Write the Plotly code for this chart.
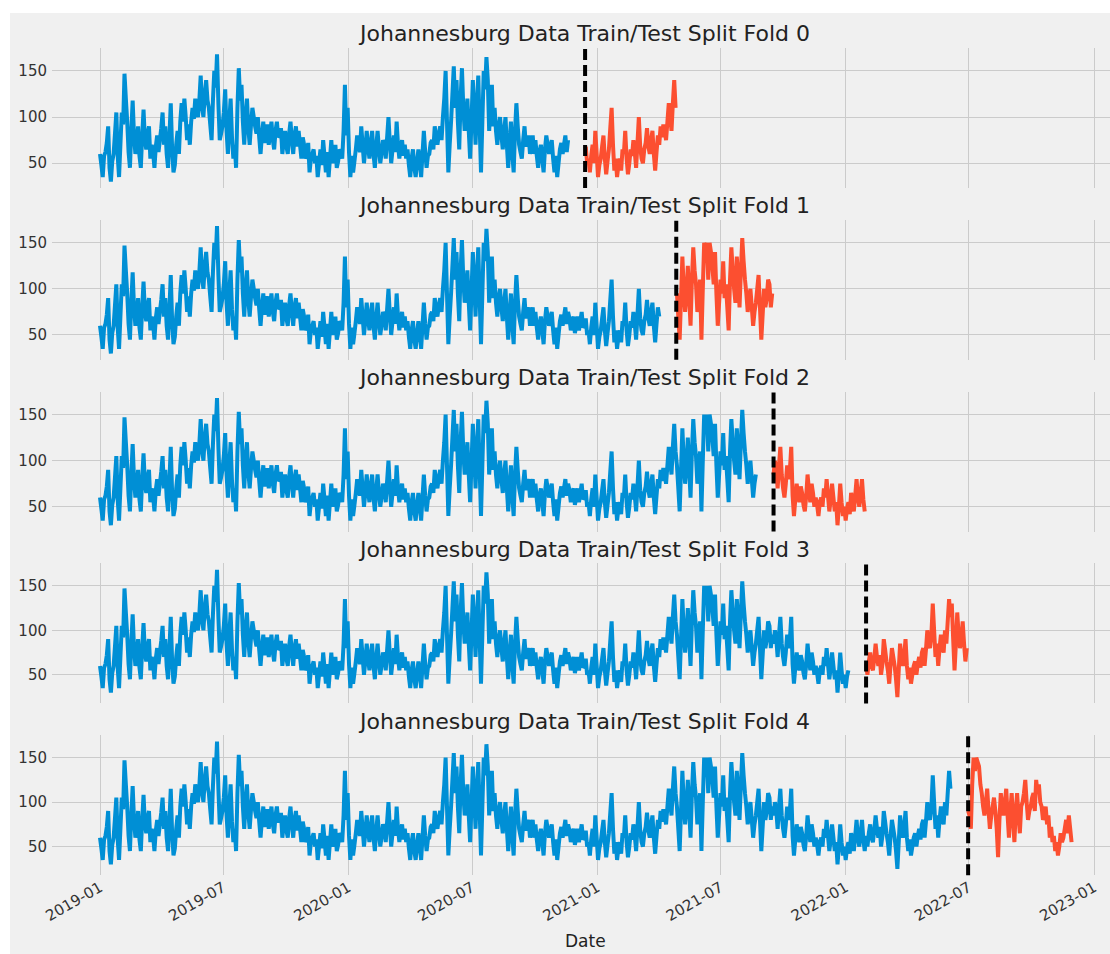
import pandas as pd
import plotly.graph_objects as go

# Daily-average readings sampled every 2 days from 2019-01-01
values = [
    60, 48, 35, 58, 62, 72, 90, 45, 30, 52, 60, 82, 105, 58, 35, 70, 105, 92, 147, 120,
    95, 62, 45, 85, 118, 80, 60, 72, 90, 58, 45, 80, 108, 75, 65, 82, 90, 55, 70, 62,
    45, 68, 80, 62, 75, 88, 105, 70, 90, 60, 45, 78, 115, 65, 40, 48, 70, 85, 60, 95,
    115, 95, 120, 100, 75, 92, 70, 95, 110, 98, 120, 108, 100, 118, 145, 112, 100, 125, 140, 118,
    110, 92, 75, 118, 150, 132, 168, 115, 75, 82, 90, 105, 130, 85, 60, 95, 120, 78, 55, 70,
    45, 110, 153, 118, 135, 95, 70, 100, 120, 88, 70, 92, 110, 100, 90, 82, 100, 78, 60, 80,
    95, 72, 85, 92, 70, 82, 95, 75, 65, 85, 95, 78, 80, 88, 60, 75, 85, 68, 60, 82,
    95, 75, 60, 80, 90, 68, 85, 70, 55, 78, 70, 55, 60, 72, 40, 55, 60, 65, 50, 58,
    35, 50, 65, 48, 75, 58, 40, 62, 35, 55, 75, 50, 60, 70, 45, 52, 65, 62, 55, 85,
    135, 80, 110, 62, 35, 58, 40, 52, 65, 80, 70, 62, 90, 70, 50, 65, 85, 68, 55, 72,
    85, 60, 45, 68, 85, 65, 50, 62, 75, 70, 55, 78, 100, 72, 50, 65, 80, 62, 95, 70,
    55, 68, 75, 58, 70, 55, 65, 48, 35, 55, 65, 45, 35, 52, 65, 50, 35, 60, 85, 62,
    45, 58, 60, 72, 75, 65, 90, 78, 70, 82, 90, 75, 100, 120, 150, 95, 40, 70, 95, 125,
    155, 110, 140, 95, 65, 120, 153, 110, 85, 100, 120, 85, 55, 95, 140, 105, 70, 115, 145, 90,
    40, 95, 150, 130, 165, 140, 85, 110, 135, 90, 110, 85, 70, 90, 100, 80, 65, 85, 100, 70,
    45, 72, 95, 60, 40, 85, 115, 90, 70, 62, 55, 75, 90, 68, 75, 80, 60, 70, 80, 60,
    75, 58, 45, 62, 70, 55, 40, 65, 80, 70, 60, 68, 75, 55, 40, 58, 35, 50, 65, 72,
    60, 70, 80, 62, 75, 68, 55, 64, 70, 52, 60, 70, 55, 65, 75, 58, 60, 68, 50, 55,
    40, 58, 70, 50, 85, 60, 35, 48, 55, 68, 80, 55, 38, 52, 65, 88, 110, 70, 42, 55,
    35, 48, 55, 42, 65, 60, 85, 55, 38, 50, 65, 58, 75, 62, 45, 72, 100, 68, 55, 50,
    65, 72, 88, 68, 60, 75, 85, 60, 42, 62, 80, 70, 90, 78, 92, 85, 75, 95, 115, 100,
    85, 115, 140, 110, 95, 70, 45, 90, 135, 100, 75, 95, 125, 90, 60, 110, 145, 120, 105, 75,
    90, 110, 45, 100, 150, 130, 150, 110, 150, 140, 125, 105, 140, 95, 60, 85, 110, 95, 130, 90,
    105, 80, 55, 110, 145, 120, 100, 85, 135, 110, 80, 120, 155, 130, 110, 95, 75, 90, 100, 80,
    60, 75, 85, 100, 115, 80, 45, 72, 100, 80, 90, 110, 105, 80, 95, 85, 100, 90, 70, 95,
    115, 85, 70, 60, 75, 95, 80, 90, 115, 62, 40, 58, 75, 62, 55, 72, 65, 52, 45, 62,
    85, 68, 55, 75, 65, 50, 60, 52, 40, 55, 60, 50, 70, 60, 80, 62, 45, 58, 75, 60,
    45, 55, 30, 50, 75, 55, 40, 50, 35, 48, 55, 42, 65, 58, 45, 62, 80, 60, 50, 65,
    80, 58, 45, 62, 50, 65, 75, 60, 55, 68, 85, 70, 60, 72, 50, 62, 90, 78, 65, 55,
    40, 62, 80, 70, 60, 45, 25, 55, 85, 70, 60, 72, 90, 60, 45, 58, 40, 50, 60, 65,
    50, 62, 70, 58, 75, 80, 60, 78, 100, 85, 80, 95, 130, 100, 70, 85, 60, 80, 95, 82,
    75, 100, 85, 110, 135, 115, 130, 90, 55, 85, 120, 95, 80, 90, 110, 85, 65, 80, 90, 85,
    70, 120, 150, 135, 150, 145, 140, 120, 110, 95, 85, 100, 115, 90, 70, 85, 95, 105, 90, 70,
    38, 80, 110, 95, 85, 100, 115, 85, 60, 90, 110, 80, 55, 90, 110, 85, 65, 95, 100, 110,
    125, 100, 80, 90, 95, 105, 110, 90, 125, 110, 120, 100, 95, 80, 85, 95, 75, 85, 60, 72,
    55, 62, 45, 55, 40, 50, 65, 55, 60, 70, 80, 65, 85, 70, 55,
]
series_start = "2019-01-01"
sample_step = "2D"

# First day of each test window; train data stops gap_days before it
test_starts = ["2020-12-14", "2021-04-27", "2021-09-17", "2022-01-31", "2022-06-30"]
gap_days = 24
fold_titles = [f"Johannesburg Data Train/Test Split Fold {k}" for k in range(5)]
x_label = "Date"

BLUE = "#008fd5"
RED = "#fc4f30"
BG = "#f0f0f0"
GRID = "#cbcbcb"
TEXT = "#333333"
FONT = "DejaVu Sans"

dates = pd.date_range(series_start, periods=len(values), freq=sample_step)
series = pd.Series(values, index=dates)
starts = pd.to_datetime(test_starts)
gap = pd.Timedelta(days=gap_days)

# Page geometry (pixels)
W, H = 1110, 954
plot_left = 52
plot_w = W - plot_left
panel_top0, pitch, panel_h = 48, 171.8, 140
px_per_day = 994 / 1461
x0_date = pd.Timestamp("2019-01-01") - pd.Timedelta(days=(100 - plot_left) / px_per_day)
x1_date = x0_date + pd.Timedelta(days=plot_w / px_per_day)

fig = go.Figure()
layout = {}
shapes = []
annotations = []

for k in range(5):
    ts = starts[k]
    te = starts[k + 1] if k < 4 else series.index[-1] + pd.Timedelta(days=1)
    train = series[series.index < ts - gap]
    test = series[(series.index >= ts) & (series.index < te)]
    sx = "" if k == 0 else str(k + 1)
    xa, ya = "x" + sx, "y" + sx

    fig.add_trace(go.Scatter(x=train.index, y=train.values, mode="lines",
                             line=dict(color=BLUE, width=4, simplify=False),
                             xaxis=xa, yaxis=ya, showlegend=False, hoverinfo="skip"))
    fig.add_trace(go.Scatter(x=test.index, y=test.values, mode="lines",
                             line=dict(color=RED, width=4, simplify=False),
                             xaxis=xa, yaxis=ya, showlegend=False, hoverinfo="skip"))

    lo = min(train.min(), test.min())
    hi = max(train.max(), test.max())
    pad = 0.05 * (hi - lo)

    top_px = panel_top0 + pitch * k
    bot_px = top_px + panel_h
    dom = [1 - bot_px / H, 1 - top_px / H]

    last = k == 4
    layout["xaxis" + sx] = dict(
        domain=[0, 1], anchor=ya, type="date",
        range=[x0_date, x1_date],
        tick0="2019-01-01", dtick="M6", tickformat="%Y-%m",
        showgrid=True, gridcolor=GRID, gridwidth=1, zeroline=False, showline=False,
        ticks="", showticklabels=last, tickangle=-30,
        tickfont=dict(family=FONT, size=15, color=TEXT),
        **({} if k == 0 else {"matches": "x"}),
    )
    layout["yaxis" + sx] = dict(
        domain=dom, anchor=xa, range=[lo - pad, hi + pad],
        tickvals=[50, 100, 150], showgrid=True, gridcolor=GRID, gridwidth=1,
        zeroline=False, showline=False, ticks="", ticklabelstandoff=4,
        tickfont=dict(family=FONT, size=15, color=TEXT),
    )

    shapes.append(dict(type="line", xref=xa, yref=ya + " domain",
                       x0=ts, x1=ts, y0=0, y1=1,
                       line=dict(color="black", width=4, dash="11px,5px")))

    annotations.append(dict(text=fold_titles[k], xref="paper", yref="paper",
                            x=(584 - plot_left) / plot_w, y=1 - (top_px - 14) / H,
                            xanchor="center", yanchor="middle", showarrow=False,
                            font=dict(family=FONT, size=22, color="#222222")))

annotations.append(dict(text=x_label, xref="paper", yref="paper",
                        x=(585 - plot_left) / plot_w, y=1 - 941 / H,
                        xanchor="center", yanchor="middle", showarrow=False,
                        font=dict(family=FONT, size=17, color="#222222")))

# White page edge strips along the left and top
shapes.append(dict(type="rect", xref="paper", yref="paper", layer="above",
                   x0=-plot_left / plot_w, x1=(10 - plot_left) / plot_w, y0=0, y1=1,
                   fillcolor="white", line=dict(width=0)))
shapes.append(dict(type="rect", xref="paper", yref="paper", layer="above",
                   x0=-plot_left / plot_w, x1=1, y0=1 - 13 / H, y1=1,
                   fillcolor="white", line=dict(width=0)))

fig.update_layout(
    width=W, height=H,
    margin=dict(l=plot_left, r=0, t=0, b=0),
    paper_bgcolor=BG, plot_bgcolor=BG,
    shapes=shapes, annotations=annotations,
    font=dict(family=FONT, color=TEXT),
    **layout,
)

fig.write_html("out.html")
